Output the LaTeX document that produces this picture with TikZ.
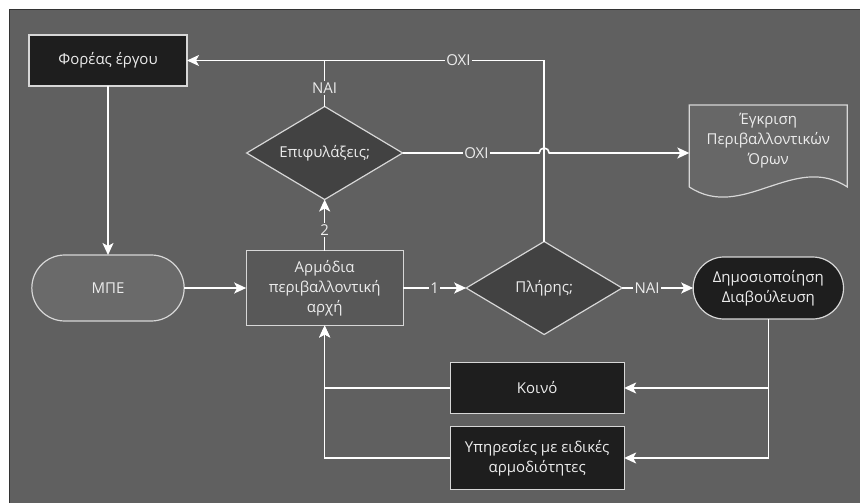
\documentclass[tikz,border=0pt]{standalone}
\usepackage{fontspec}
\setmainfont{Open Sans}
\usetikzlibrary{positioning,shapes.geometric,shapes.misc,arrows.meta,backgrounds}

\definecolor{bggray}{RGB}{96,96,96}
\definecolor{darkfill}{RGB}{30,30,30}
\definecolor{diafill}{RGB}{66,66,66}
\definecolor{procfill}{RGB}{88,88,88}
\definecolor{termfill}{RGB}{106,106,106}
\definecolor{docfill}{RGB}{103,103,103}
\definecolor{edgegray}{RGB}{215,215,215}
\definecolor{txtgray}{RGB}{236,236,236}

\begin{document}
\begin{tikzpicture}[x=1pt,y=1pt,
	font=\fontsize{15}{20}\selectfont,
	box/.style={rectangle, draw=edgegray, line width=1.2pt, fill=darkfill, text=txtgray, align=center, minimum width=158pt, minimum height=51pt, inner sep=2pt, outer sep=0pt},
	proc/.style={box, fill=procfill, minimum width=157pt, minimum height=75pt},
	term/.style={rounded rectangle, draw=edgegray, line width=1.2pt, fill=termfill, text=txtgray, align=center, minimum width=159pt, minimum height=66pt, outer sep=0pt},
	dec/.style={diamond, aspect=1.67, draw=edgegray, line width=1.2pt, fill=diafill, text=txtgray, minimum width=156pt, minimum height=93pt, inner sep=0pt, outer sep=0pt},
	docbox/.style={rectangle, text=txtgray, align=center, minimum width=158pt, minimum height=66pt, outer sep=0pt},
	wire/.style={draw=white, line width=1.6pt},
	arr/.style={wire, -{Stealth[length=12pt,width=11pt,inset=3pt]}},
	lbl/.style={fill=bggray, text=txtgray, inner sep=1.5pt}
	]

	\useasboundingbox (0,0) rectangle (860,-503);

	\node (foreas) [box] at (108,-60.5) {Φορέας έργου};
	\node (mpe) [term, below=169pt of foreas] {ΜΠΕ};
	\node (armodia) [proc, right=62pt of mpe] {Αρμόδια\\περιβαλλοντική\\αρχή};
	\node (epif) [dec, above=51pt of armodia] {Επιφυλάξεις;};
	\node (pliris) [dec, right=63pt of armodia] {Πλήρης;};
	\node (dimos) [term, fill=darkfill, minimum width=157pt, minimum height=62pt, right=71pt of pliris] {Δημοσιοποίηση\\Διαβούλευση};
	\node (egkrisi) [docbox, above=83pt of dimos] {Έγκριση\\Περιβαλλοντικών\\Όρων};
	\node (koino) [box, minimum width=174pt, below=28pt of pliris, xshift=-7pt] {Κοινό};
	\node (ypiresies) [box, minimum width=174pt, minimum height=63pt, below=13pt of koino] {Υπηρεσίες με ειδικές\\αρμοδιότητες};

	\begin{scope}[on background layer]
		\fill [white] (0,0) rectangle (860,-503);
		\draw [black!80, line width=1.5pt, fill=bggray] (9.5,-9.5) rectangle (864,-507);
		\draw [draw=edgegray, line width=1.2pt, fill=docfill] ([yshift=-13pt]egkrisi.south west) -- ([yshift=3pt]egkrisi.north west) -- ([yshift=3pt]egkrisi.north east) -- ([yshift=-13pt]egkrisi.south east) .. controls +(-53pt,35pt) and +(53pt,-35pt) .. cycle;
	\end{scope}

	\coordinate (jump) at (pliris.north |- epif.east);

	\draw [arr] (foreas.south) -- (mpe.north);
	\draw [arr] (mpe.east) -- (armodia.west);
	\draw [arr] (armodia.east) -- node[lbl] {1} (pliris.west);
	\draw [arr] (armodia.north) -- node[lbl, pos=0.4] {2} (epif.south);
	\draw [arr] (pliris.north) |- node[lbl, pos=0.62] {ΟΧΙ} (foreas.east);
	\draw [wire] (epif.north) -- node[lbl, pos=0.4] {ΝΑΙ} (epif.north |- foreas.east);
	\draw [arr] (epif.east) -- node[lbl, pos=0.54] {ΟΧΙ} ([xshift=-5pt]jump) arc[start angle=180, end angle=0, radius=5pt] -- (epif.east -| egkrisi.west);
	\draw [arr] (pliris.east) -- node[lbl, pos=0.35] {ΝΑΙ} (dimos.west);

	\draw [arr] (dimos.south) |- (koino.east);
	\draw [arr] (dimos.south) |- (ypiresies.east);
	\draw [arr] (koino.west) -| (armodia.south);
	\draw [arr] (ypiresies.west) -| (armodia.south);

\end{tikzpicture}
\end{document}
